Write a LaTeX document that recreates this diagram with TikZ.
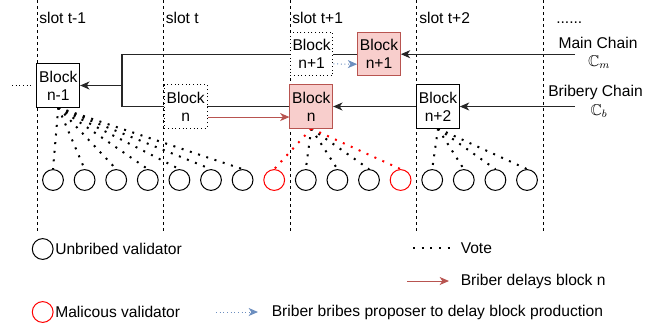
\documentclass[tikz,border=0pt]{standalone}
\usepackage{fontspec}
\setmainfont{Liberation Sans}
\usepackage{amssymb}
\usetikzlibrary{positioning}
\usetikzlibrary{arrows.meta,backgrounds}
\definecolor{redFill}{HTML}{F8CECC}
\definecolor{redLine}{HTML}{B85450}
\definecolor{blueLine}{HTML}{6C8EBF}
\newcommand{\diagfont}{\fontsize{11.7}{13.3}\selectfont}
\tikzset{
    block/.style={draw, fill=white, line width=0.75pt, align=center,
		minimum width=32pt, minimum height=32.4pt, inner sep=0pt},
    redblock/.style={block, draw=redLine, fill=redFill},
    validator/.style={circle, draw, line width=0.75pt, fill=white,
		minimum size=15.6pt, inner sep=0pt},
    slotline/.style={line width=0.75pt, dash pattern=on 2.25pt off 2.25pt},
    chain/.style={line width=0.8pt, draw=black!85},
    chainArrow/.style={chain, -{Stealth[length=7pt, width=6pt, inset=2pt]}},
    vote/.style={line width=1.5pt, dash pattern=on 1.5pt off 5pt},
    delay/.style={line width=0.75pt, draw=redLine, -{Stealth[length=7pt, width=6pt, inset=2pt]}},
    bribe/.style={line width=0.75pt, draw=blueLine, dotted, -{Stealth[length=7pt, width=6pt, inset=2pt, fill=blueLine]}},
    legtext/.style={anchor=west, inner sep=0pt},
    chainlabel/.style={inner sep=0pt}
}

\begin{document}
\begin{tikzpicture}[x=0.75pt, y=-0.75pt, every node/.style={font=\diagfont}]
			\useasboundingbox (0,0) rectangle (660,330);
			% slot labels
			\foreach \x/\lbl [count=\i] in {39/slot t-1, 165.5/slot t, 292/slot t+1, 419/slot t+2}
				\node[anchor=base west, inner sep=0pt] (slot\i) at (\x,23) {\lbl};
			\node[anchor=base west, inner sep=0pt] (more) at (556,23) {......};
			% blocks
			\node[block] (nmOne) at (58.3,85.5) {Block\\n-1};
			\node[block, dotted] (nDelay) at (185.7,106.5) {Block\\n};
			\node[block, dotted] (nBribe) at (311.6,53.9) {Block\\n+1};
			\node[redblock] (nPlusOne) at (379,54.2) {Block\\n+1};
			\node[redblock] (nRed) at (311.3,106.5) {Block\\n};
			\node[block] (nPlusTwo) at (438,106.5) {Block\\n+2};
			% chain labels
			\node[chainlabel] (mainLbl) at (598,43) {Main Chain};
			\node[chainlabel] (mainSym) at (599,62) {$\mathbb{C}_m$};
			\node[chainlabel] (bribLbl) at (595.5,92) {Bribery Chain};
			\node[chainlabel] (bribSym) at (599,111) {$\mathbb{C}_b$};
			\coordinate (mainIn) at (575,54.2);
			\coordinate (bribIn) at (575,106.5);
			\coordinate (fork) at (122,85.5);
			\coordinate (leadIn) at (12,85.5);
			% validators
			\foreach \i in {1,2,3,4,5,6,7,9,10,11,13,14,15,16}
				\node[validator] (v\i) at ({53+31.6*(\i-1)},180) {};
			\foreach \i in {8,12}
				\node[validator, draw=red] (v\i) at ({53+31.6*(\i-1)},180) {};
			\begin{scope}[on background layer]
				\foreach \x in {37.5,163.5,290,416.5,543}
					\draw[slotline] (\x,0) -- (\x,233);
				\draw[dotted, line width=0.75pt, shorten >=2pt] (leadIn) -- (nmOne.west);
				% main chain
				\draw[chainArrow] (mainIn) -- (nPlusOne.east);
				\draw[chainArrow] (nPlusOne.west) -| (fork) -- (nmOne.east);
				% bribery chain
				\draw[chainArrow] (bribIn) -- (nPlusTwo.east);
				\draw[chainArrow] (nPlusTwo.west) -- (nRed.east);
				\draw[chain] (nRed.west) -| (fork);
				% votes
				\foreach \i in {1,...,7}
					\draw[vote] (nmOne.south) -- (v\i.north);
				\foreach \i in {9,10,11}
					\draw[vote] (nRed.south) -- (v\i.north);
				\foreach \i in {8,12}
					\draw[vote, red] (nRed.south) -- (v\i.north);
				\foreach \i in {13,...,16}
					\draw[vote] (nPlusTwo.south) -- (v\i.north);
			\end{scope}
			\draw[delay] ([yshift=-7.9pt]nDelay.east) -- ([yshift=-7.9pt]nRed.west);
			\draw[bribe] ([yshift=-7.5pt]nBribe.east) -- ([yshift=-7.5pt]nPlusOne.west);
			% legend
			\node[validator] (legU) at (42.7,249) {};
			\node[legtext] (legUTxt) at (55,249) {Unbribed validator};
			\node[validator, draw=red] (legM) at (42.7,312) {};
			\node[legtext] (legMTxt) at (55,312) {Malicous validator};
			\coordinate (voteA) at (413,248);
			\coordinate (voteB) at (450,248);
			\draw[vote] (voteA) -- (voteB);
			\node[legtext] (voteTxt) at (460.5,248) {Vote};
			\coordinate (delayA) at (407,281);
			\coordinate (delayB) at (449,281);
			\draw[delay] (delayA) -- (delayB);
			\node[legtext] (delayTxt) at (460.5,281) {Briber delays block n};
			\coordinate (bribeA) at (216,312);
			\coordinate (bribeB) at (258,312);
			\draw[bribe] (bribeA) -- (bribeB);
			\node[legtext] (bribeTxt) at (271.5,312) {Briber bribes proposer to delay block production};
		\end{tikzpicture}
\end{document}
